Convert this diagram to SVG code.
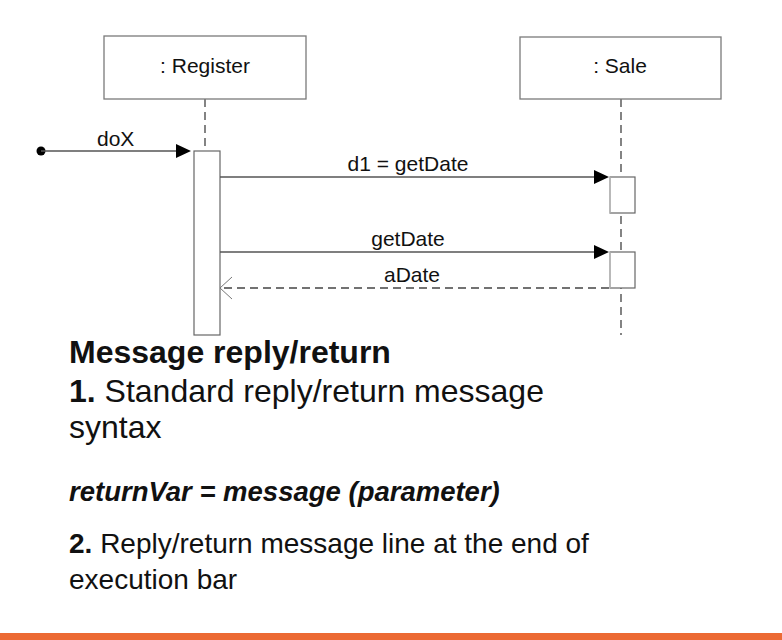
<svg xmlns="http://www.w3.org/2000/svg" width="782" height="640" viewBox="0 0 782 640">
  <style>
    .box { fill: #ffffff; stroke: #7a7a7a; stroke-width: 1.3; }
    .lifeline { stroke: #333333; stroke-width: 1.2; stroke-dasharray: 8 5; fill: none; }
    .act { fill: #ffffff; stroke: #666666; stroke-width: 1.2; }
    .actEdge { stroke: #c8c8c8; stroke-width: 1.2; }
    .msg { stroke: #555555; stroke-width: 1.3; fill: none; }
    .reply { stroke: #444444; stroke-width: 1.3; stroke-dasharray: 8 5; fill: none; }
    .head { fill: #000000; }
    .open { stroke: #777777; stroke-width: 1; fill: none; }
    .lbl { font-family: "Liberation Sans", Arial, sans-serif; font-size: 21px; fill: #111111; }
    .mid { text-anchor: middle; }
    .txt { font-family: "Liberation Sans", Arial, sans-serif; fill: #111111; }
  </style>

  <rect width="782" height="640" fill="#ffffff"/>

  <!-- lifelines -->
  <g id="lifelines">
    <line class="lifeline" x1="205" y1="99" x2="205" y2="151"/>
    <line class="lifeline" x1="621" y1="99" x2="621" y2="335"/>
  </g>

  <!-- participant: Register -->
  <g id="register">
    <rect class="box" x="104" y="36" width="202" height="63"/>
    <text class="lbl mid" x="205" y="73">: Register</text>
    <rect class="act" x="194" y="151" width="26" height="184"/>
  </g>

  <!-- participant: Sale -->
  <g id="sale">
    <rect class="box" x="520" y="37" width="201" height="62"/>
    <text class="lbl mid" x="620" y="73">: Sale</text>
    <rect class="act" x="610" y="177" width="25" height="36"/>
    <line class="actEdge" x1="610" y1="177" x2="610" y2="213"/>
    <rect class="act" x="610" y="252" width="25" height="36"/>
    <line class="actEdge" x1="610" y1="252" x2="610" y2="288"/>
  </g>

  <!-- messages -->
  <g id="connectors">
    <!-- found message doX -->
    <circle class="head" cx="41" cy="151" r="4.5"/>
    <line class="msg" x1="41" y1="151" x2="180" y2="151"/>
    <polygon class="head" points="176,144 191,151 176,158"/>
    <text class="lbl" x="97" y="146">doX</text>

    <!-- d1 = getDate -->
    <line class="msg" x1="220" y1="177" x2="597" y2="177"/>
    <polygon class="head" points="594,170 609,177 594,184"/>
    <text class="lbl mid" x="408" y="171">d1 = getDate</text>

    <!-- getDate -->
    <line class="msg" x1="220" y1="252" x2="597" y2="252"/>
    <polygon class="head" points="594,245 609,252 594,259"/>
    <text class="lbl mid" x="408" y="246">getDate</text>

    <!-- aDate reply -->
    <line class="reply" x1="609" y1="288" x2="221" y2="288"/>
    <polyline class="open" points="232,277 220,288 232,299"/>
    <text class="lbl mid" x="412" y="282">aDate</text>
  </g>

  <!-- notes -->
  <g id="notes">
    <text class="txt" x="69" y="363" font-size="32" font-weight="bold">Message reply/return</text>
    <text class="txt" x="69" y="402" font-size="32"><tspan font-weight="bold">1.</tspan> Standard reply/return message</text>
    <text class="txt" x="69" y="438" font-size="32">syntax</text>
    <text class="txt" x="69" y="501" font-size="27.5" font-weight="bold" font-style="italic">returnVar = message (parameter)</text>
    <text class="txt" x="69" y="553" font-size="28"><tspan font-weight="bold">2.</tspan> Reply/return message line at the end of</text>
    <text class="txt" x="69" y="589" font-size="28">execution bar</text>
  </g>

  <!-- footer band -->
  <rect x="0" y="633" width="782" height="7" fill="#ec6a34"/>
</svg>
